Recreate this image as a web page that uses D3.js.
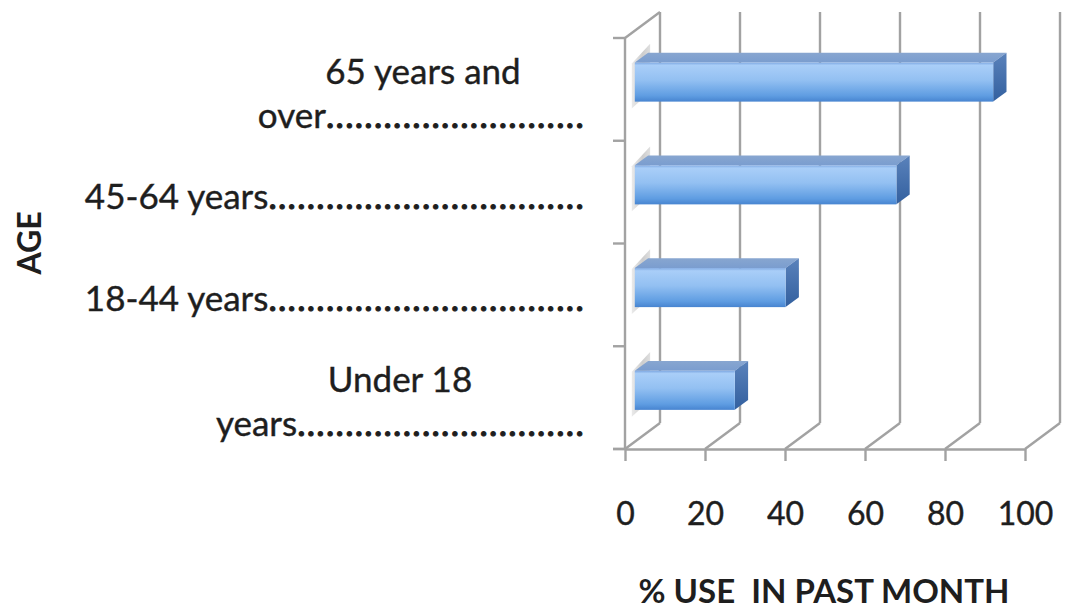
<!DOCTYPE html>
<html>
<head>
<meta charset="utf-8">
<script src="https://cdn.jsdelivr.net/npm/d3@7"></script>
<style>
  body { margin: 0; background: #fff; }
  text { font-family: Lato, "Open Sans", sans-serif; fill: #1e1e1e; }
</style>
</head>
<body>
<svg id="chart" width="1070" height="609"></svg>
<script>
// Age groups, top to bottom
const categories = ["65 years and over", "45-64 years", "18-44 years", "Under 18 years"];
// Wrapped category labels with dot leaders, as printed
const labelLines = [
  ["65 years and", "over..........................."],
  ["45-64 years................................."],
  ["18-44 years................................."],
  ["Under 18", "years.............................."]
];
// Percent using in the past month
const values = [89.6, 65.4, 37.7, 25.0];
const xTicks = [0, 20, 40, 60, 80, 100];
const xTitle = "% USE  IN PAST MONTH";
const yTitle = "AGE";

const svg = d3.select("#chart");

// Front plane of the 3-D box
const x = d3.scaleLinear().domain([0, 100]).range([625, 1025]);
const y = d3.scaleBand().domain(categories).range([38, 449])
  .paddingInner(0.62).paddingOuter(0.31);
const yTop = 38, yBottom = 449;
const depth = { dx: 35, dy: -26 };   // oblique depth of the box
const barZ = [0.28, 0.66];           // bar front/back depth fractions
const gridColor = "#a2a2a2";
const gridWidth = 2.4;

const defs = svg.append("defs");
const front = defs.append("linearGradient").attr("id", "barFront")
  .attr("x1", 0).attr("y1", 0).attr("x2", 0).attr("y2", 1);
[["0%", "#7ea8e2"], ["7%", "#a9cef8"], ["45%", "#93c0f2"], ["85%", "#5f9de2"], ["100%", "#4784d0"]]
  .forEach(([o, c]) => front.append("stop").attr("offset", o).attr("stop-color", c));
const side = defs.append("linearGradient").attr("id", "barSide")
  .attr("x1", 0).attr("y1", 0).attr("x2", 0).attr("y2", 1);
[["0%", "#5a82bb"], ["100%", "#33609f"]]
  .forEach(([o, c]) => side.append("stop").attr("offset", o).attr("stop-color", c));
const topG = defs.append("linearGradient").attr("id", "barTop")
  .attr("x1", 0).attr("y1", 1).attr("x2", 0).attr("y2", 0);
[["0%", "#7a9dcf"], ["100%", "#88a6d0"]]
  .forEach(([o, c]) => topG.append("stop").attr("offset", o).attr("stop-color", c));
const cap = defs.append("linearGradient").attr("id", "barCap")
  .attr("x1", 0).attr("y1", 0).attr("x2", 1).attr("y2", 0);
[["0%", "#e6e6e6"], ["60%", "#c4c4c4"], ["100%", "#dadada"]]
  .forEach(([o, c]) => cap.append("stop").attr("offset", o).attr("stop-color", c));

const line = (g, x1, y1, x2, y2) => g.append("line")
  .attr("x1", x1).attr("y1", y1).attr("x2", x2).attr("y2", y2)
  .attr("stroke", gridColor).attr("stroke-width", gridWidth);

// Back wall gridlines and floor edges
const box = svg.append("g");
xTicks.forEach(t => {
  line(box, x(t) + depth.dx, yTop + depth.dy, x(t) + depth.dx, yBottom + depth.dy);
  line(box, x(t), yBottom, x(t) + depth.dx, yBottom + depth.dy);
});
// Left wall
line(box, x(0), yTop, x(0), yBottom);
line(box, x(0), yTop, x(0) + depth.dx, yTop + depth.dy);
// Category boundary ticks on the left wall
d3.range(categories.length + 1).forEach(k => {
  const yy = yTop + k * y.step();
  line(box, x(0) - 12, yy, x(0), yy);
});

// Bars as oblique boxes
const ddx = depth.dx * (barZ[1] - barZ[0]);
const ddy = depth.dy * (barZ[1] - barZ[0]);
svg.append("g").selectAll("g").data(categories).join("g")
  .each(function (c, i) {
    const g = d3.select(this);
    const x0 = x(0) + depth.dx * barZ[0];
    const x1 = x(values[i]) + depth.dx * barZ[0];
    const t = y(c) + depth.dy * barZ[0];
    const b = t + y.bandwidth();
    const pts = a => a.map(p => p.join(",")).join(" ");
    g.append("polygon").attr("fill", "url(#barCap)").attr("opacity", 0.85)
      .attr("points", pts([[x0 - 3, t + 1], [x0 + ddx + 2, t + ddy - 9], [x0 + ddx + 2, b + ddy], [x0 - 3, b + 7]]));
    g.append("polygon").attr("fill", "url(#barTop)")
      .attr("points", pts([[x0, t], [x1, t], [x1 + ddx, t + ddy], [x0 + ddx, t + ddy]]));
    g.append("polygon").attr("fill", "url(#barSide)")
      .attr("points", pts([[x1, t], [x1 + ddx, t + ddy], [x1 + ddx, b + ddy], [x1, b]]));
    g.append("rect").attr("x", x0).attr("y", t).attr("width", x1 - x0).attr("height", b - t)
      .attr("fill", "url(#barFront)");
  });

// X axis on the front floor edge
const xAxis = svg.append("g").attr("transform", `translate(0,${yBottom})`)
  .call(d3.axisBottom(x).tickValues(xTicks).tickSize(12).tickSizeOuter(0).tickPadding(41));
xAxis.selectAll("path, line").attr("stroke", gridColor).attr("stroke-width", gridWidth);
xAxis.selectAll("text").style("font-family", "Lato, sans-serif").style("font-size", "32px")
  .attr("fill", "#1e1e1e").attr("stroke", "#1e1e1e").attr("stroke-width", 0.4);
line(svg, x(0) - 12, yBottom, x(0), yBottom);

// Category labels, right-aligned with dot leaders
const labelX = 585, lineH = 44;
const dotPitch = 9.6;
const labelSize = 35;
const probe = svg.append("text").style("font-size", labelSize + "px").text(".");
const dotW = probe.node().getComputedTextLength();
probe.remove();
const labels = svg.append("g").style("font-size", labelSize + "px")
  .attr("stroke", "#1e1e1e").attr("stroke-width", 0.4);
categories.forEach((c, i) => {
  const lines = labelLines[i];
  const yc = y(c) + y.bandwidth() / 2;
  lines.forEach((s, j) => {
    const base = yc + 16.5 + (j - (lines.length - 1) / 2) * lineH;
    const m = s.match(/^(.*?)(\.*)$/);
    const last = j === lines.length - 1;
    const tx = labels.append("text").attr("y", base);
    if (last) {
      tx.attr("x", labelX).attr("text-anchor", "end");
      tx.append("tspan").text(m[1]);
      tx.append("tspan").style("letter-spacing", (dotPitch - dotW) + "px")
        .attr("stroke-width", 1.2).text(m[2]);
    } else {
      tx.attr("x", i === 0 ? 423 : 400).attr("text-anchor", "middle").text(s);
    }
  });
});

// Axis titles
svg.append("text").attr("x", 824).attr("y", 603).attr("text-anchor", "middle")
  .style("font-size", "33px").style("font-weight", "bold").style("white-space", "pre")
  .attr("xml:space", "preserve").text(xTitle);
svg.append("text").attr("transform", "translate(41,243) rotate(-90)").attr("text-anchor", "middle")
  .style("font-size", "32px").style("font-weight", "bold").text(yTitle);
</script>
</body>
</html>
